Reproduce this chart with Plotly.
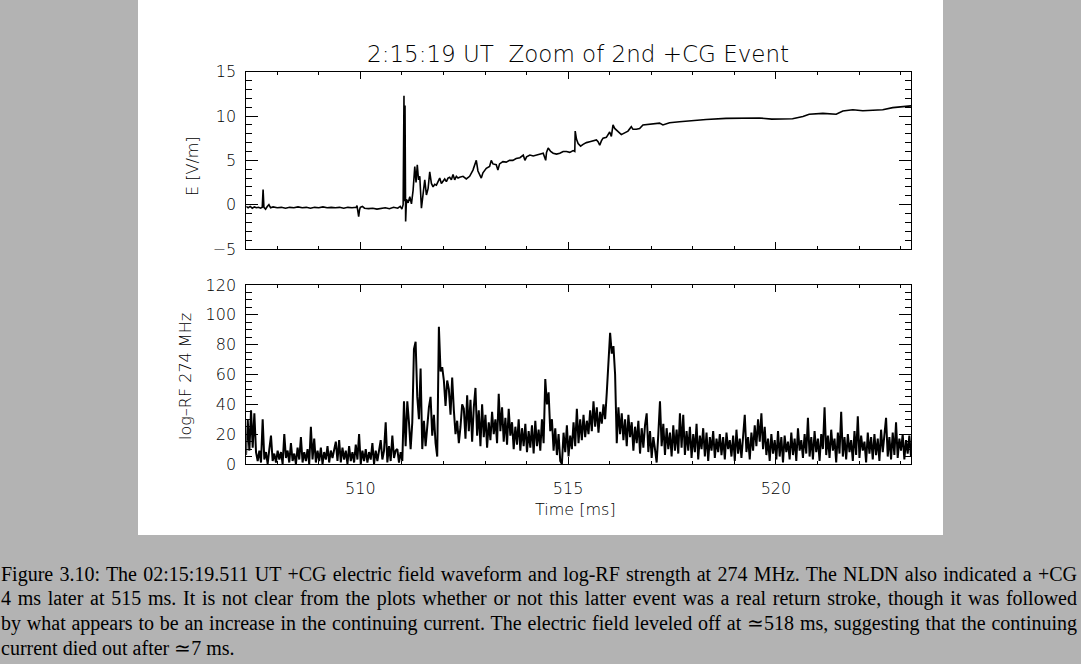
import plotly.graph_objects as go

W, H = 1081, 664

# ---------------- data ----------------
t_e = [507.25, 507.30, 507.35, 507.40, 507.45, 507.50, 507.55, 507.60, 507.64, 507.66,
       507.68, 507.72, 507.76, 507.80, 507.84, 507.90, 508.00, 508.10, 508.20, 508.30,
       508.40, 508.50, 508.60, 508.70, 508.80, 508.90, 509.00, 509.10, 509.20, 509.30,
       509.40, 509.50, 509.60, 509.70, 509.80, 509.90, 509.92, 509.96, 509.98, 510.00,
       510.05, 510.10, 510.20, 510.30, 510.40, 510.50, 510.60, 510.70, 510.80, 510.90,
       510.96, 511.00, 511.03, 511.05, 511.06, 511.075, 511.09, 511.11, 511.15, 511.19,
       511.23, 511.27, 511.31, 511.34, 511.37, 511.40, 511.43, 511.47, 511.51, 511.55,
       511.59, 511.63, 511.67, 511.71, 511.75, 511.79, 511.83, 511.87, 511.91, 511.95,
       511.99, 512.03, 512.07, 512.11, 512.15, 512.19, 512.23, 512.27, 512.31, 512.35,
       512.39, 512.47, 512.55, 512.63, 512.71, 512.75, 512.79, 512.83, 512.87, 512.91,
       512.95, 513.03, 513.11, 513.15, 513.19, 513.27, 513.31, 513.35, 513.43, 513.51,
       513.59, 513.67, 513.75, 513.84, 513.92, 513.96, 514.00, 514.08, 514.16, 514.24,
       514.32, 514.40, 514.46, 514.48, 514.52, 514.58, 514.64, 514.72, 514.80, 514.88,
       514.96, 515.04, 515.12, 515.16, 515.17, 515.20, 515.24, 515.30, 515.36, 515.44,
       515.52, 515.60, 515.68, 515.72, 515.76, 515.80, 515.84, 515.92, 516.00, 516.04,
       516.08, 516.12, 516.16, 516.22, 516.28, 516.36, 516.44, 516.52, 516.56, 516.64,
       516.72, 516.80, 516.96, 517.20, 517.28, 517.44, 517.68, 518.00, 518.32, 518.80,
       519.28, 519.60, 519.90, 520.40, 520.65, 520.80, 521.13, 521.45, 521.61, 521.85,
       522.09, 522.33, 522.57, 522.81, 523.13, 523.25]

e_field = [-0.2, -0.35, -0.2, -0.4, -0.25, -0.35, -0.3, -0.4, -0.3, 1.7,
           -0.3, -0.5, -0.2, 0.0, -0.35, -0.25, -0.35, -0.3, -0.4, -0.3,
           -0.35, -0.25, -0.35, -0.3, -0.4, -0.3, -0.35, -0.25, -0.35, -0.3,
           -0.35, -0.3, -0.4, -0.3, -0.35, -0.3, -0.1, -1.35, -0.6, -0.3,
           -0.2, -0.4, -0.45, -0.4, -0.5, -0.4, -0.35, -0.45, -0.3, -0.4,
           -0.2, -0.5, 0.0, 12.3, 0.4, 11.2, -1.9, 0.6, 0.2, 0.9,
           0.1, 1.65, 4.3, 2.5, 4.5, 2.8, 3.2, -0.4, 1.6, 2.8,
           1.1, 1.8, 3.7, 2.4, 2.0, 2.3, 2.2, 2.6, 3.0, 2.4,
           2.7, 2.9, 2.6, 3.0, 3.1, 2.8, 3.4, 2.8, 3.2, 3.0,
           3.1, 3.2, 2.9, 3.2, 3.9, 4.6, 5.0, 3.8, 3.35, 3.0,
           3.6, 4.1, 4.3, 5.0, 4.6, 4.5, 3.9, 4.6, 4.85, 4.8,
           5.0, 5.0, 5.2, 5.3, 5.6, 5.0, 5.4, 5.6, 5.5, 5.6,
           5.7, 5.8, 5.0, 5.9, 6.4, 6.0, 5.8, 5.7, 5.8, 6.0,
           6.0, 5.9, 6.1, 6.0, 8.3, 7.4, 6.9, 6.6, 6.8, 7.0,
           7.1, 7.2, 7.3, 7.1, 6.7, 7.2, 7.5, 7.6, 8.2, 7.7,
           9.0, 8.6, 8.4, 8.2, 7.9, 8.1, 8.3, 8.8, 8.5, 8.5,
           8.6, 9.0, 9.1, 9.2, 9.0, 9.25, 9.35, 9.5, 9.6, 9.74,
           9.8, 9.78, 9.65, 9.7, 9.95, 10.2, 10.3, 10.2, 10.56, 10.7,
           10.6, 10.65, 10.7, 10.95, 11.1, 11.15]

rf_t0 = 507.25     # ms, first RF sample
rf_dt = 0.04       # ms, RF sample spacing
log_rf = [
    6, 30, 9, 36, 11, 34, 8, 2, 9, 1, 30, 3, 8, 0, 10, 19, 2, 7, 1, 9,
    3, 8, 0, 20, 4, 9, 1, 14, 2, 7, 0, 11, 3, 18, 1, 8, 2, 10, 0, 25,
    3, 17, 1, 9, 2, 11, 0, 8, 3, 12, 1, 9, 4, 10, 15, 2, 16, 1, 11, 3,
    9, 0, 12, 2, 8, 1, 13, 3, 20, 0, 9, 2, 10, 1, 8, 3, 14, 0, 9, 2,
    11, 16, 3, 9, 28, 1, 12, 2, 19, 4, 9, 10, 1, 8, 2, 42, 12, 42, 28, 10,
    28, 77, 82, 45, 30, 64, 10, 29, 12, 27, 38, 45, 19, 33, 14, 5, 92, 62, 65, 56,
    39, 56, 50, 33, 58, 36, 20, 29, 14, 25, 40, 37, 17, 46, 22, 43, 15, 38, 51, 19,
    36, 12, 40, 18, 33, 11, 28, 16, 35, 20, 30, 14, 47, 22, 38, 15, 31, 13, 37, 19,
    28, 10, 25, 13, 30, 9, 24, 12, 27, 8, 22, 11, 26, 7, 29, 12, 23, 9, 30, 14,
    57, 40, 48, 22, 30, 9, 24, 6, 20, 2, 0, 21, 8, 26, 5, 19, 10, 28, 12, 37,
    14, 30, 16, 33, 18, 29, 20, 36, 22, 42, 25, 38, 21, 35, 27, 40, 30, 48, 66, 88,
    74, 79, 60, 14, 38, 20, 34, 16, 30, 12, 33, 18, 28, 9, 25, 14, 29, 7, 24, 11,
    26, 34, 8, 22, 4, 18, 10, 1, 20, 42, 12, 27, 6, 24, 10, 21, 5, 26, 9, 23,
    7, 34, 11, 33, 6, 22, 9, 25, 4, 20, 8, 27, 3, 19, 10, 24, 5, 21, 2, 18,
    9, 22, 4, 17, 8, 20, 6, 18, 3, 21, 10, 16, 5, 19, 2, 23, 7, 17, 4, 20,
    33, 8, 18, 3, 21, 9, 26, 12, 30, 15, 34, 10, 25, 6, 17, 2, 20, 7, 16, 3,
    22, 5, 18, 1, 19, 8, 15, 3, 21, 6, 17, 2, 24, 9, 16, 4, 20, 7, 31, 5,
    18, 3, 22, 8, 17, 2, 20, 10, 38, 6, 19, 4, 23, 9, 17, 1, 21, 7, 35, 5,
    18, 3, 20, 8, 16, 2, 22, 6, 32, 4, 19, 9, 15, 1, 21, 7, 18, 3, 20, 6,
    17, 2, 23, 8, 19, 31, 5, 18, 3, 21, 6, 28, 4, 17, 9, 20, 3, 16, 7, 19, 5,
]

x_range = [507.256, 523.25]
x_ticks = [510, 515, 520]
e_ticks = [-5, 0, 5, 10, 15]
rf_ticks = [0, 20, 40, 60, 80, 100, 120]

title_text = "2:15:19 UT\u00a0\u00a0Zoom of 2nd +CG Event"
caption_lines = [
    "Figure 3.10: The 02:15:19.511 UT +CG electric field waveform and log-RF strength at 274 MHz. The NLDN also indicated a +CG",
    "4 ms later at 515 ms. It is not clear from the plots whether or not this latter event was a real return stroke, though it was followed",
    "by what appears to be an increase in the continuing current. The electric field leveled off at \u2243518 ms, suggesting that the continuing",
    "current died out after \u22437 ms.",
]

# ---------------- figure ----------------
SANS = "DejaVu Sans"
SERIF = "Liberation Serif"
fig = go.Figure()

fig.add_trace(go.Scatter(x=t_e, y=e_field, mode="lines",
                         line=dict(color="black", width=1.6),
                         xaxis="x", yaxis="y", showlegend=False, hoverinfo="skip"))
fig.add_trace(go.Scatter(x0=rf_t0, dx=rf_dt, y=log_rf, mode="lines",
                         line=dict(color="black", width=2),
                         xaxis="x2", yaxis="y2", showlegend=False, hoverinfo="skip"))

def px_x(p):
    return p / W

def px_y(p):
    return 1 - p / H

tickfont = dict(family=SANS, size=16, color="black", weight=200)
xdom = [px_x(246.3), px_x(911)]

common_x = dict(range=x_range, domain=xdom, showline=True, linecolor="black", linewidth=1,
                mirror="ticks", ticks="inside", ticklen=7, tickwidth=1, tickcolor="black",
                tickvals=x_ticks, showgrid=False, zeroline=False, tickfont=tickfont,
                automargin=False,
                minor=dict(dtick=1, tick0=510, ticklen=3, tickcolor="black", ticks="inside", showgrid=False))

fig.update_layout(
    width=W, height=H, autosize=False,
    margin=dict(l=0, r=0, t=0, b=0, pad=0, autoexpand=False),
    paper_bgcolor="#b3b3b3",
    plot_bgcolor="white",
    xaxis=dict(common_x, anchor="y", showticklabels=False),
    xaxis2=dict(common_x, anchor="y2", showticklabels=True, ticklabelstandoff=10),
    yaxis=dict(range=[-5, 15], domain=[px_y(249), px_y(71.7)], anchor="x",
               showline=True, linecolor="black", linewidth=1, mirror="ticks",
               ticks="inside", ticklen=12, tickwidth=1, tickcolor="black",
               tickvals=e_ticks, showgrid=False, zeroline=False, tickfont=tickfont,
               ticklabelstandoff=6, automargin=False,
               minor=dict(dtick=1, ticklen=6, tickcolor="black", ticks="inside", showgrid=False)),
    yaxis2=dict(range=[0, 120], domain=[px_y(464), px_y(285)], anchor="x2",
                showline=True, linecolor="black", linewidth=1, mirror="ticks",
                ticks="inside", ticklen=12, tickwidth=1, tickcolor="black",
                tickvals=rf_ticks, showgrid=False, zeroline=False, tickfont=tickfont,
                ticklabelstandoff=6, automargin=False,
                minor=dict(dtick=5, ticklen=6, tickcolor="black", ticks="inside", showgrid=False)),
    shapes=[dict(type="rect", xref="paper", yref="paper", x0=px_x(138), x1=px_x(943),
                 y0=px_y(535), y1=1, fillcolor="white", line=dict(width=0), layer="below")],
)

anns = [
    dict(text=title_text, x=px_x(578), y=px_y(54), font=dict(family=SANS, size=23, color="black", weight=200)),
    dict(text="E [V/m]", x=px_x(192), y=px_y(166), textangle=-90, font=dict(family=SANS, size=16, color="black", weight=200)),
    dict(text="log\u2013RF 274 MHz", x=px_x(186), y=px_y(377), textangle=-90, font=dict(family=SANS, size=16, color="black", weight=200)),
    dict(text="Time [ms]", x=px_x(575), y=px_y(509), font=dict(family=SANS, size=16, color="black", weight=200)),
]
for a in anns:
    a.update(xref="paper", yref="paper", showarrow=False, xanchor="center", yanchor="middle")
    fig.add_annotation(**a)

for i, line in enumerate(caption_lines):
    fig.add_annotation(text=line, x=0, y=px_y(574 + 24.7 * i), xref="paper", yref="paper",
                       xanchor="left", yanchor="middle", align="left", showarrow=False, borderpad=0,
                       font=dict(family=SERIF, size=20, color="black"))

# justify the first three caption lines to the full page width (like the LaTeX caption)
justify_js = """
(function(){
  var gd = document.getElementsByClassName('plotly-graph-div')[0];
  var texts = gd.querySelectorAll('text.annotation-text');
  texts.forEach(function(t){
    var s = t.textContent;
    var justify = (s.indexOf('Figure 3.10') === 0 || s.indexOf('4 ms later') === 0 ||
                   s.indexOf('by what appears') === 0);
    if (!justify) return;
    var n = (s.match(/ /g) || []).length;
    var w = t.getComputedTextLength();
    var target = 1076;
    if (n > 0 && w < target) { t.style.wordSpacing = ((target - w) / n) + 'px'; }
  });
})();
"""

fig.write_html("out.html", post_script=justify_js)
